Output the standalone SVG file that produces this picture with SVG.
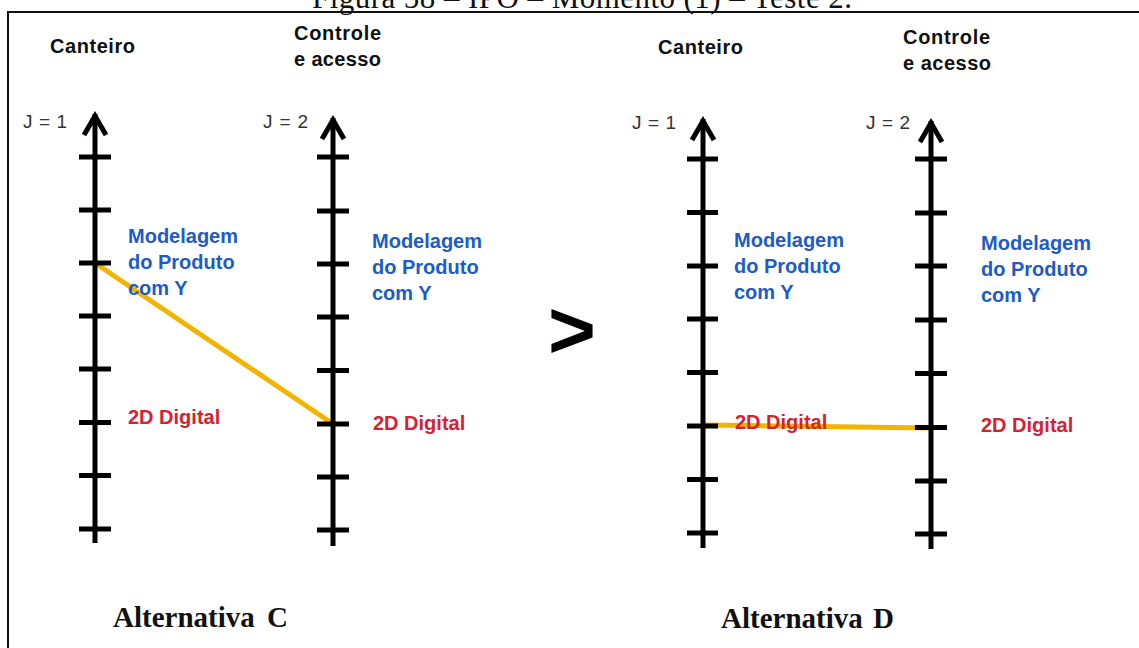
<svg xmlns="http://www.w3.org/2000/svg" width="1139" height="648" viewBox="0 0 1139 648">
<style>
.ax{stroke:#000;stroke-width:5;fill:none}
.tk{stroke:#000;stroke-width:5}
.hd{font-family:"Liberation Sans",Arial,sans-serif;font-weight:bold;font-size:20px;fill:#111}
.j{font-family:"Liberation Sans",Arial,sans-serif;font-size:19px;fill:#333}
.bl{font-family:"Liberation Sans",Arial,sans-serif;font-weight:bold;font-size:20px;fill:#1d5cc4}
.rd{font-family:"Liberation Sans",Arial,sans-serif;font-weight:bold;font-size:20px;fill:#d42232}
.alt{font-family:"Liberation Serif","Times New Roman",serif;font-weight:bold;font-size:29px;fill:#111}
.cn{stroke:#f2b400;stroke-width:5;fill:none}
</style>
<rect width="1139" height="648" fill="#fff"/>
<path d="M8,648 V12 H1139" fill="none" stroke="#111" stroke-width="2"/>
<text x="582" y="8" text-anchor="middle" font-family="Liberation Serif,'Times New Roman',serif" font-size="31" fill="#111" textLength="540">Figura 58 – IPO – Momento (1) – Teste 2.</text>

<g id="connectors">
<line class="cn" x1="95" y1="263" x2="333" y2="424"/>
<line class="cn" x1="703" y1="425" x2="931" y2="428"/>
</g>

<g id="c-axis-canteiro">
<line class="ax" x1="95" y1="114" x2="95" y2="543"/>
<polyline class="ax" points="84,135 95,116 106,135"/>
<line class="tk" x1="79" y1="157" x2="111" y2="157"/>
<line class="tk" x1="79" y1="210" x2="111" y2="210"/>
<line class="tk" x1="79" y1="263" x2="111" y2="263"/>
<line class="tk" x1="79" y1="316" x2="111" y2="316"/>
<line class="tk" x1="79" y1="369" x2="111" y2="369"/>
<line class="tk" x1="79" y1="422.5" x2="111" y2="422.5"/>
<line class="tk" x1="79" y1="475.5" x2="111" y2="475.5"/>
<line class="tk" x1="79" y1="529" x2="111" y2="529"/>
<text class="hd" x="50" y="53" textLength="85">Canteiro</text>
<text class="j" x="23" y="128" textLength="44">J = 1</text>
<text class="bl" x="128" y="243">Modelagem</text>
<text class="bl" x="128" y="269">do Produto</text>
<text class="bl" x="128" y="295">com Y</text>
<text class="rd" x="128" y="424">2D Digital</text>
</g>

<g id="c-axis-controle">
<line class="ax" x1="333" y1="118" x2="333" y2="546"/>
<polyline class="ax" points="322,139 333,120 344,139"/>
<line class="tk" x1="317" y1="157" x2="349" y2="157"/>
<line class="tk" x1="317" y1="211" x2="349" y2="211"/>
<line class="tk" x1="317" y1="264" x2="349" y2="264"/>
<line class="tk" x1="317" y1="317" x2="349" y2="317"/>
<line class="tk" x1="317" y1="370.5" x2="349" y2="370.5"/>
<line class="tk" x1="317" y1="424" x2="349" y2="424"/>
<line class="tk" x1="317" y1="477" x2="349" y2="477"/>
<line class="tk" x1="317" y1="530" x2="349" y2="530"/>
<text class="hd" x="294" y="40" textLength="87">Controle</text>
<text class="hd" x="294" y="66" textLength="87">e acesso</text>
<text class="j" x="263" y="128" textLength="45">J = 2</text>
<text class="bl" x="372" y="248">Modelagem</text>
<text class="bl" x="372" y="274">do Produto</text>
<text class="bl" x="372" y="300">com Y</text>
<text class="rd" x="373" y="430">2D Digital</text>
</g>

<g id="title-c">
<text class="alt" x="113" y="627">Alternativa</text>
<text class="alt" x="267" y="627">C</text>
</g>

<g id="comparison">
<text x="548" y="358" font-family="Liberation Sans,Arial,sans-serif" font-weight="bold" font-size="82" fill="#000">&gt;</text>
</g>

<g id="d-axis-canteiro">
<line class="ax" x1="703" y1="119" x2="703" y2="548"/>
<polyline class="ax" points="692,140 703,121 714,140"/>
<line class="tk" x1="687" y1="159" x2="718" y2="159"/>
<line class="tk" x1="687" y1="212.5" x2="718" y2="212.5"/>
<line class="tk" x1="687" y1="266" x2="718" y2="266"/>
<line class="tk" x1="687" y1="319" x2="718" y2="319"/>
<line class="tk" x1="687" y1="372.5" x2="718" y2="372.5"/>
<line class="tk" x1="687" y1="426" x2="718" y2="426"/>
<line class="tk" x1="687" y1="479.5" x2="718" y2="479.5"/>
<line class="tk" x1="687" y1="533" x2="718" y2="533"/>
<text class="hd" x="658" y="54" textLength="85">Canteiro</text>
<text class="j" x="632" y="129" textLength="44">J = 1</text>
<text class="bl" x="734" y="247">Modelagem</text>
<text class="bl" x="734" y="273">do Produto</text>
<text class="bl" x="734" y="299">com Y</text>
<text class="rd" x="735" y="429">2D Digital</text>
</g>

<g id="d-axis-controle">
<line class="ax" x1="931" y1="121" x2="931" y2="549"/>
<polyline class="ax" points="920,142 931,123 942,142"/>
<line class="tk" x1="915" y1="159" x2="947" y2="159"/>
<line class="tk" x1="915" y1="213" x2="947" y2="213"/>
<line class="tk" x1="915" y1="266" x2="947" y2="266"/>
<line class="tk" x1="915" y1="320" x2="947" y2="320"/>
<line class="tk" x1="915" y1="373.5" x2="947" y2="373.5"/>
<line class="tk" x1="915" y1="427.5" x2="947" y2="427.5"/>
<line class="tk" x1="915" y1="481" x2="947" y2="481"/>
<line class="tk" x1="915" y1="534" x2="947" y2="534"/>
<text class="hd" x="903" y="44" textLength="87">Controle</text>
<text class="hd" x="903" y="70" textLength="88">e acesso</text>
<text class="j" x="866" y="129" textLength="44">J = 2</text>
<text class="bl" x="981" y="250">Modelagem</text>
<text class="bl" x="981" y="276">do Produto</text>
<text class="bl" x="981" y="302">com Y</text>
<text class="rd" x="981" y="432">2D Digital</text>
</g>

<g id="title-d">
<text class="alt" x="721" y="628">Alternativa</text>
<text class="alt" x="873" y="628">D</text>
</g>
</svg>
